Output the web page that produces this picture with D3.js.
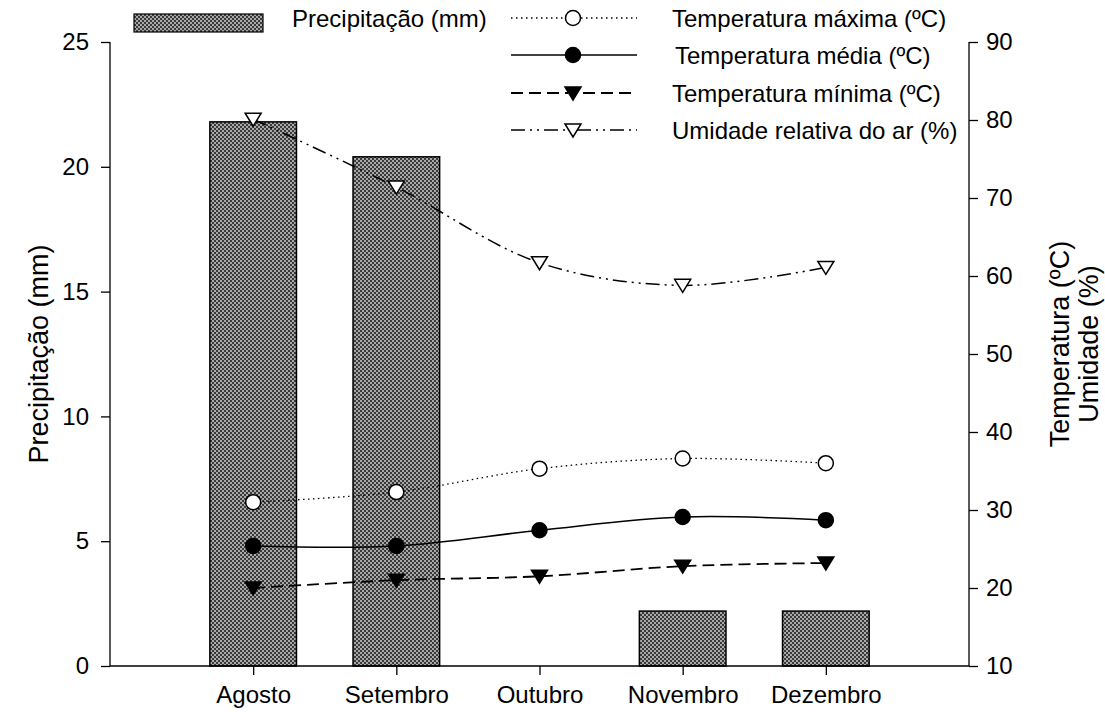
<!DOCTYPE html>
<html>
<head>
<meta charset="utf-8">
<script src="https://cdn.jsdelivr.net/npm/d3@7"></script>
<style>
body{margin:0;background:#fff;}
svg text{font-family:"Liberation Sans",Arial,sans-serif;fill:#000;}
</style>
</head>
<body>
<svg id="chart" width="1105" height="712"></svg>
<script>
const months = ["Agosto","Setembro","Outubro","Novembro","Dezembro"];
const precipitacao = [21.8, 20.4, 0, 2.2, 2.2];
const tempMax = [31.0, 32.3, 35.3, 36.6, 36.0];
const tempMed = [25.4, 25.4, 27.4, 29.1, 28.7];
const tempMin = [20.0, 21.0, 21.5, 22.8, 23.2];
const umidade = [80.1, 71.4, 61.7, 58.8, 61.1];
const leftTicks = [0,5,10,15,20,25];
const rightTicks = [10,20,30,40,50,60,70,80,90];
const legendLabels = ["Precipitação (mm)","Temperatura máxima (ºC)","Temperatura média (ºC)","Temperatura mínima (ºC)","Umidade relativa do ar (%)"];

const svg = d3.select("#chart");
const L = 110, R = 969, T = 42, B = 666;

const x = d3.scaleLinear().domain([-1, 5]).range([L, R]);
const yL = d3.scaleLinear().domain([0, 25]).range([B, T]);
const yR = d3.scaleLinear().domain([10, 90]).range([B, T]);
const step = x(1) - x(0);
const barW = step * 0.605;

// pattern
const defs = svg.append("defs");
const pat = defs.append("pattern").attr("id","chk").attr("patternUnits","userSpaceOnUse")
  .attr("width",4).attr("height",4);
pat.append("rect").attr("width",4).attr("height",4).attr("fill","#3a3a3a");
pat.append("rect").attr("x",0).attr("y",0).attr("width",2).attr("height",2).attr("fill","#a8a8a8");
pat.append("rect").attr("x",2).attr("y",2).attr("width",2).attr("height",2).attr("fill","#a8a8a8");

// bars
svg.append("g").selectAll("rect").data(precipitacao.map((v,i)=>({v,i})).filter(d=>d.v>0))
  .join("rect")
  .attr("x", d => x(d.i) - barW/2)
  .attr("y", d => yL(d.v))
  .attr("width", barW)
  .attr("height", d => yL(0) - yL(d.v))
  .attr("fill","url(#chk)")
  .attr("stroke","#000").attr("stroke-width",1.5);

// axes
const fs = "24px";
const axL = svg.append("g").attr("transform",`translate(${L},0)`)
  .call(d3.axisLeft(yL).tickValues(leftTicks).tickSize(9).tickPadding(12));
const axR = svg.append("g").attr("transform",`translate(${R},0)`)
  .call(d3.axisRight(yR).tickValues(rightTicks).tickSize(9).tickPadding(8));
const axB = svg.append("g").attr("transform",`translate(0,${B})`)
  .call(d3.axisBottom(x).tickValues(d3.range(months.length)).tickFormat(i=>months[i]).tickSize(9).tickPadding(11));
[axL,axR,axB].forEach(g=>{
  g.attr("font-size",fs).attr("font-family","Liberation Sans, Arial, sans-serif");
  g.selectAll("path.domain").attr("stroke","#000").attr("stroke-width",1.3);
  g.selectAll(".tick line").attr("stroke","#000").attr("stroke-width",1.3);
  g.selectAll(".tick text").attr("font-size",fs).attr("fill","#000");
});
axL.select("path.domain").attr("d",`M0,${B}V${T}`);
axR.select("path.domain").attr("d",`M0,${B}V${T}`);
axB.select("path.domain").attr("d",`M${L},0H${R}`);

// axis titles
svg.append("text").attr("transform",`translate(48,${(T+B)/2}) rotate(-90)`)
  .attr("text-anchor","middle").attr("font-size","27px").text("Precipitação (mm)");
svg.append("text").attr("transform",`translate(1069,344) rotate(-90)`)
  .attr("text-anchor","middle").attr("font-size","27px").text("Temperatura (ºC)");
svg.append("text").attr("transform",`translate(1098,344) rotate(-90)`)
  .attr("text-anchor","middle").attr("font-size","27px").text("Umidade (%)");

// series
const series = [
  {vals: tempMax, dash:"1.5,3.5", w:1.3, marker:"circle", fill:"#fff"},
  {vals: tempMed, dash:null, w:1.5, marker:"circle", fill:"#000"},
  {vals: tempMin, dash:"12,6", w:1.8, marker:"tri", fill:"#000"},
  {vals: umidade, dash:"14,5,2,5,2,5", w:1.5, marker:"tri", fill:"#fff"}
];
const line = d3.line().x((d,i)=>x(i)).y(d=>yR(d)).curve(d3.curveCatmullRom.alpha(0.5));
const triPath = (cx,cy) => `M${cx-8},${cy-6}L${cx+8},${cy-6}L${cx},${cy+7}Z`;

function drawMarker(g, m, cx, cy, fill){
  if(m==="circle"){
    g.append("circle").attr("cx",cx).attr("cy",cy).attr("r",7.5)
      .attr("fill",fill).attr("stroke","#000").attr("stroke-width",1.5);
  } else {
    g.append("path").attr("d",triPath(cx,cy)).attr("fill",fill)
      .attr("stroke","#000").attr("stroke-width",1.5);
  }
}

series.forEach(s=>{
  svg.append("path").attr("d", line(s.vals)).attr("fill","none")
    .attr("stroke","#000").attr("stroke-width",s.w)
    .attr("stroke-dasharray", s.dash);
  const g = svg.append("g");
  s.vals.forEach((v,i)=>drawMarker(g, s.marker, x(i), yR(v), s.fill));
});

// legend
const lg = svg.append("g");
lg.append("rect").attr("x",134).attr("y",14).attr("width",129).attr("height",18)
  .attr("fill","url(#chk)").attr("stroke","#000").attr("stroke-width",1.2);
lg.append("text").attr("x",292).attr("y",27).attr("font-size","24px").text(legendLabels[0]);
const rowsY = [18, 55, 93, 130];
const textX = [672, 675, 672, 672];
series.forEach((s,k)=>{
  const yy = rowsY[k];
  lg.append("line").attr("x1",511).attr("x2",637).attr("y1",yy).attr("y2",yy)
    .attr("stroke","#000").attr("stroke-width",s.w).attr("stroke-dasharray",s.dash);
  drawMarker(lg, s.marker, 573, yy, s.fill);
  lg.append("text").attr("x",textX[k]).attr("y",yy+8.5).attr("font-size","24px").text(legendLabels[k+1]);
});
</script>
</body>
</html>
